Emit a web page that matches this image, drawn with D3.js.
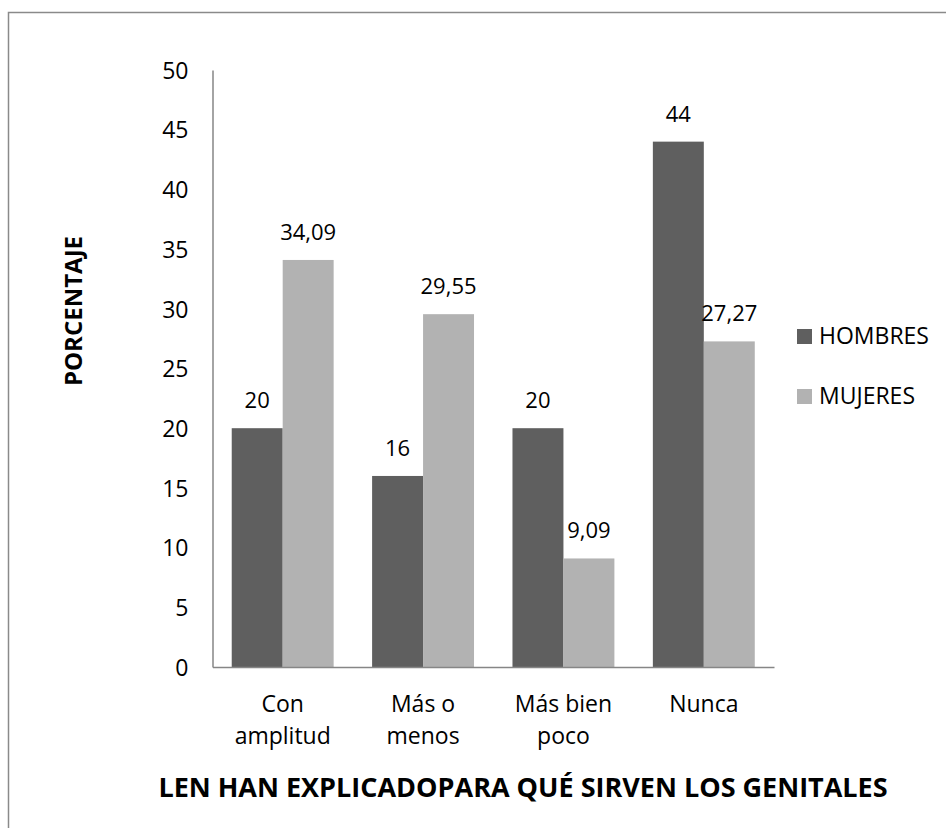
<!DOCTYPE html>
<html lang="es">
<head>
    <meta charset="UTF-8">
    <title>Genitales</title>
    <script src="https://d3js.org/d3.v7.min.js"></script>
    <style>
        body { margin: 0; background: #fff; }
        text { font-family: "Open Sans", sans-serif; fill: #000; }
    </style>
</head>
<body>
    <div id="chart"></div>
    <script>
        // datos del grafico
        var categories = [["Con", "amplitud"], ["Más o", "menos"], ["Más bien", "poco"], ["Nunca"]];
        var seriesNames = ["HOMBRES", "MUJERES"];
        var hombres = [20, 16, 20, 44];
        var mujeres = [34.09, 29.55, 9.09, 27.27];
        var yTicks = [0, 5, 10, 15, 20, 25, 30, 35, 40, 45, 50];
        var colors = ["#5f5f5f", "#b2b2b2"];

        var width = 946, height = 828;
        var plotLeft = 212.5, plotRight = 774, plotTop = 70, plotBottom = 667;

        var svg = d3.select("#chart").append("svg")
            .attr("width", width)
            .attr("height", height);

        // marco exterior
        svg.append("rect")
            .attr("x", 8.5).attr("y", 12.5)
            .attr("width", 960).attr("height", 900)
            .attr("fill", "none")
            .attr("stroke", "#8a8a8a")
            .attr("stroke-width", 1.5);

        var catKeys = categories.map(function(d, i) { return i; });

        var x0 = d3.scaleBand()
            .domain(catKeys)
            .range([plotLeft, plotRight])
            .paddingInner(0.274)
            .paddingOuter(0.137);

        var x1 = d3.scaleBand()
            .domain([0, 1])
            .range([0, x0.bandwidth()]);

        var y = d3.scaleLinear()
            .domain([0, 50])
            .range([plotBottom, plotTop]);

        var data = catKeys.map(function(i) {
            return [hombres[i], mujeres[i]];
        });

        // barras
        var groups = svg.selectAll(".grp")
            .data(data)
            .enter().append("g")
            .attr("class", "grp")
            .attr("transform", function(d, i) { return "translate(" + x0(i) + ",0)"; });

        groups.selectAll("rect")
            .data(function(d) { return d; })
            .enter().append("rect")
            .attr("x", function(d, j) { return x1(j); })
            .attr("y", function(d) { return y(d); })
            .attr("width", x1.bandwidth())
            .attr("height", function(d) { return plotBottom - y(d); })
            .attr("fill", function(d, j) { return colors[j]; });

        var fmt = function(v) { return String(v).replace(".", ","); };

        groups.selectAll(".lbl")
            .data(function(d) { return d; })
            .enter().append("text")
            .attr("class", "lbl")
            .attr("x", function(d, j) { return x1(j) + x1.bandwidth() / 2; })
            .attr("y", function(d) { return y(d) - 20; })
            .attr("text-anchor", "middle")
            .style("font-size", "22px")
            .text(fmt);

        // eje y
        var yAxis = d3.axisLeft(y)
            .tickValues(yTicks)
            .tickSize(0)
            .tickPadding(24);

        var gy = svg.append("g")
            .attr("transform", "translate(" + plotLeft + ",0)")
            .call(yAxis);
        gy.select(".domain").attr("stroke", "#868686").attr("stroke-width", 1.5);
        gy.selectAll("text")
            .style("font-size", "23px")
            .style("font-family", "Open Sans")
            .attr("fill", "#000")
            .attr("dy", "0.36em");

        // eje x
        var xAxis = d3.axisBottom(x0).tickSize(0).tickFormat("");
        var gx = svg.append("g")
            .attr("transform", "translate(0," + plotBottom + ")")
            .call(xAxis);
        gx.select(".domain").attr("stroke", "#868686").attr("stroke-width", 1.5);

        gx.selectAll(".tick").each(function(d) {
            var t = d3.select(this).append("text")
                .attr("text-anchor", "middle")
                .style("font-size", "23px");
            categories[d].forEach(function(line, k) {
                t.append("tspan")
                    .attr("x", 0)
                    .attr("y", 45 + k * 31.5)
                    .text(line);
            });
        });

        // titulos
        svg.append("text")
            .attr("transform", "translate(82,311) rotate(-90)")
            .attr("text-anchor", "middle")
            .style("font-size", "24px")
            .style("font-weight", "bold")
            .text("PORCENTAJE");

        svg.append("text")
            .attr("x", 523)
            .attr("y", 797)
            .attr("text-anchor", "middle")
            .style("font-size", "27px")
            .style("font-weight", "bold")
            .text("LEN HAN EXPLICADOPARA QUÉ SIRVEN LOS GENITALES");

        // leyenda
        var legend = svg.selectAll(".leg")
            .data(seriesNames)
            .enter().append("g")
            .attr("class", "leg")
            .attr("transform", function(d, i) { return "translate(797," + (329 + i * 60) + ")"; });

        legend.append("rect")
            .attr("width", 15).attr("height", 15)
            .attr("fill", function(d, i) { return colors[i]; });

        legend.append("text")
            .attr("x", 22)
            .attr("y", 15)
            .style("font-size", "23px")
            .text(function(d) { return d; });
    </script>
</body>
</html>
